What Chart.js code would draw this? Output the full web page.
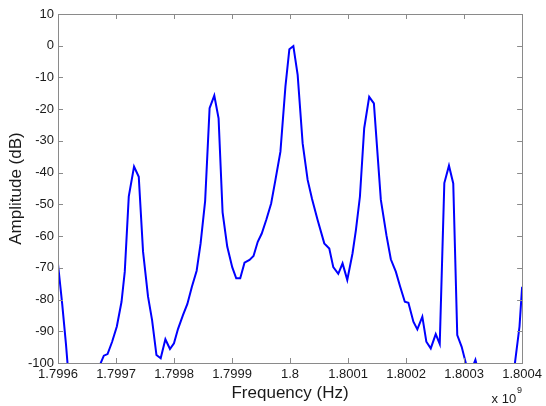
<!DOCTYPE html>
<html>
<head>
<meta charset="utf-8">
<script src="https://cdn.jsdelivr.net/npm/chart.js@4/dist/chart.umd.min.js"></script>
<style>
  html, body { margin: 0; padding: 0; background: #fff; }
  #wrap { width: 546px; height: 406px; }
</style>
</head>
<body>
<div id="wrap"><canvas id="spectrum"></canvas></div>
<script>
// frequency in units of 1e9 Hz (axis shows "x 10^9")
const freq = [
  1.7996000, 1.7996073, 1.7996137, 1.7996190, 1.7996350, 1.7996550, 1.7996713,
  1.7996790, 1.7996854, 1.7996933, 1.7997014, 1.7997095, 1.7997151, 1.7997220,
  1.7997311, 1.7997392, 1.7997466, 1.7997552, 1.7997621, 1.7997697, 1.7997770,
  1.7997851, 1.7997930, 1.7997999, 1.7998068, 1.7998154, 1.7998230, 1.7998309,
  1.7998390, 1.7998458, 1.7998536, 1.7998613, 1.7998694, 1.7998768, 1.7998837,
  1.7998917, 1.7999003, 1.7999072, 1.7999141, 1.7999215, 1.7999301, 1.7999370,
  1.7999443, 1.7999512, 1.7999593, 1.7999674, 1.7999748, 1.7999834, 1.7999920,
  1.7999988, 1.8000057, 1.8000131, 1.8000217, 1.8000303, 1.8000379, 1.8000475,
  1.8000590, 1.8000676, 1.8000745, 1.8000831, 1.8000905, 1.8000986, 1.8001077,
  1.8001135, 1.8001204, 1.8001278, 1.8001364, 1.8001445, 1.8001565, 1.8001661,
  1.8001737, 1.8001823, 1.8001897, 1.8001978, 1.8002040, 1.8002126, 1.8002194,
  1.8002280, 1.8002349, 1.8002425, 1.8002511, 1.8002580, 1.8002659, 1.8002739,
  1.8002813, 1.8002882, 1.8002958, 1.8003050, 1.8003110, 1.8003195, 1.8003264,
  1.8003500, 1.8003700, 1.8003866, 1.8003955, 1.8004000
];
const amplitude = [
  -68.8, -81.5, -94.0, -106, -113, -110, -101,
  -97.7, -97.2, -93.3, -88.5, -80.7, -71.2, -47.5,
  -38.1, -41.3, -64.9, -79.1, -86.4, -97.5, -98.5,
  -92.5, -95.6, -93.8, -89.3, -84.9, -81.4, -75.9,
  -70.9, -62.3, -49.0, -19.7, -15.7, -22.9, -52.5,
  -63.3, -69.8, -73.3, -73.3, -68.4, -67.5, -66.3,
  -61.8, -59.2, -54.7, -49.7, -42.3, -33.4, -12.9,
  -1.1, -0.1, -9.2, -30.8, -42.3, -48.3, -54.9,
  -62.3, -63.9, -69.8, -71.9, -68.6, -73.8, -65.4,
  -58.1, -47.6, -26.0, -16.1, -18.2, -48.6, -59.7,
  -67.3, -71.2, -75.9, -80.7, -81.0, -87.0, -89.4,
  -85.4, -93.3, -95.4, -90.9, -94.0, -43.3, -37.8,
  -43.4, -91.2, -94.9, -101.5, -103, -99.0, -104,
  -112, -109, -101.5, -88.5, -76.0
];
const xTicks = [1.7996, 1.7997, 1.7998, 1.7999, 1.8, 1.8001, 1.8002, 1.8003, 1.8004];
const yTicks = [10, 0, -10, -20, -30, -40, -50, -60, -70, -80, -90, -100];

const FONT = 'Liberation Sans, Arial, Helvetica, sans-serif';
const BOX = '#8a8a8a';
const TEXT = '#1a1a1a';

// box round the plot, inward ticks on all four sides, and the "x 10^9" note
const matlabAxes = {
  id: 'matlabAxes',
  afterDraw(chart) {
    const { ctx, chartArea: a, scales } = chart;
    const len = 5;
    ctx.save();
    ctx.strokeStyle = BOX;
    ctx.lineWidth = 1;
    ctx.beginPath();
    scales.x.ticks.forEach(t => {
      const px = Math.round(scales.x.getPixelForValue(t.value)) + 0.5;
      ctx.moveTo(px, a.bottom); ctx.lineTo(px, a.bottom - len);
      ctx.moveTo(px, a.top); ctx.lineTo(px, a.top + len);
    });
    scales.y.ticks.forEach(t => {
      const py = Math.round(scales.y.getPixelForValue(t.value)) + 0.5;
      ctx.moveTo(a.left, py); ctx.lineTo(a.left + len, py);
      ctx.moveTo(a.right, py); ctx.lineTo(a.right - len, py);
    });
    ctx.stroke();
    ctx.strokeRect(Math.round(a.left) + 0.5, Math.round(a.top) + 0.5,
      Math.round(a.right - a.left), Math.round(a.bottom - a.top));

    ctx.fillStyle = TEXT;
    ctx.textBaseline = 'alphabetic';
    ctx.textAlign = 'right';
    ctx.font = '13px ' + FONT;
    ctx.fillText('x 10', a.right - 6, 403);
    ctx.textAlign = 'left';
    ctx.font = '9px ' + FONT;
    ctx.fillText('9', a.right - 5, 393);
    ctx.restore();
  }
};

new Chart(document.getElementById('spectrum'), {
  type: 'line',
  data: {
    datasets: [{
      data: freq.map((f, i) => ({ x: f, y: amplitude[i] })),
      borderColor: '#0000ff',
      borderWidth: 2,
      pointRadius: 0,
      tension: 0,
      fill: false
    }]
  },
  options: {
    responsive: true,
    maintainAspectRatio: false,
    animation: false,
    layout: { padding: { left: 0, top: 14, right: 23, bottom: 0 } },
    plugins: { legend: { display: false }, tooltip: { enabled: false } },
    scales: {
      x: {
        type: 'linear',
        min: xTicks[0],
        max: xTicks[xTicks.length - 1],
        afterBuildTicks: s => { s.ticks = xTicks.map(v => ({ value: v })); },
        afterFit: s => { s.height = 43; },
        grid: { display: false, drawTicks: false },
        border: { display: false },
        ticks: {
          color: TEXT,
          padding: 4,
          maxRotation: 0,
          autoSkip: false,
          font: { family: FONT, size: 13 },
          callback: v => String(Number(v.toFixed(4)))
        },
        title: {
          display: true,
          text: 'Frequency (Hz)',
          color: TEXT,
          font: { family: FONT, size: 17 },
          padding: { top: 0, bottom: 2 }
        }
      },
      y: {
        min: yTicks[yTicks.length - 1],
        max: yTicks[0],
        afterBuildTicks: s => { s.ticks = yTicks.map(v => ({ value: v })); },
        afterFit: s => { s.width = 58; },
        grid: { display: false, drawTicks: false },
        border: { display: false },
        ticks: {
          color: TEXT,
          padding: 4,
          autoSkip: false,
          font: { family: FONT, size: 13 }
        },
        title: {
          display: true,
          text: 'Amplitude (dB)',
          color: TEXT,
          font: { family: FONT, size: 17 },
          padding: { top: 6, bottom: 0 }
        }
      }
    }
  },
  plugins: [matlabAxes]
});
</script>
</body>
</html>
